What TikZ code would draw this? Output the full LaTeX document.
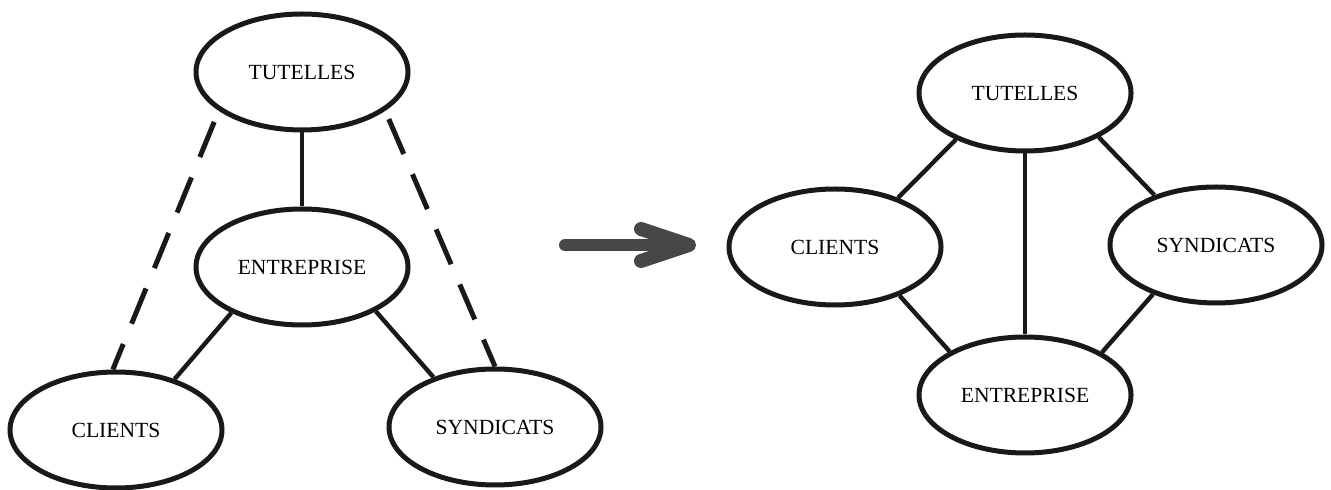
\documentclass[tikz,border=0pt]{standalone}
\usepackage{fontspec}
\setmainfont{Liberation Serif}
\usetikzlibrary{shapes.geometric}
\begin{document}
\begin{tikzpicture}[x=0.5pt,y=-0.5pt,
  oval/.style={ellipse, draw=black!90, line width=2.5pt, minimum width=106pt, minimum height=58pt, inner sep=0pt, font=\fontsize{10.8}{12}\selectfont},
  link/.style={draw=black!90, line width=2.2pt},
  dlink/.style={draw=black!90, line width=2.5pt, dash pattern=on 19pt off 11pt},
  bigarrow/.style={draw=black!72, line width=6pt, line cap=round, line join=round}]
\useasboundingbox (0,0) rectangle (1331,490);
% left diagram
\node[oval] (tut1) at (302,72) {TUTELLES};
\node[oval] (ent1) at (302,267) {ENTREPRISE};
\node[oval] (cli1) at (116,430) {CLIENTS};
\node[oval] (syn1) at (495,427) {SYNDICATS};
\draw[link] (tut1.south) -- (ent1.north);
\draw[link] (ent1.213) -- (cli1.41);
\draw[link] (ent1.329) -- (syn1.141.6);
\draw[dlink, dash phase=24pt] (tut1.205.4) -- (cli1.93);
\draw[dlink, dash phase=25.5pt] (tut1.335.7) -- (syn1.90);
% arrow
\coordinate (a1) at (565,245);
\coordinate (a2) at (689,245);
\coordinate (a3) at (641,229);
\coordinate (a4) at (641,261);
\draw[bigarrow] (a1) -- (a2);
\draw[bigarrow, line width=7pt] (a3) -- (a2) -- (a4);
% right diagram
\node[oval] (tut2) at (1025,93) {TUTELLES};
\node[oval] (cli2) at (835,247) {CLIENTS};
\node[oval] (syn2) at (1216,245) {SYNDICATS};
\node[oval] (ent2) at (1025,395) {ENTREPRISE};
\draw[link] (tut2.214.8) -- (cli2.38.7);
\draw[link] (tut2.south) -- (ent2.north);
\draw[link] (tut2.329.4) -- (syn2.141);
\draw[link] (cli2.323.6) -- (ent2.150);
\draw[link] (syn2.218.4) -- (ent2.29);
\end{tikzpicture}
\end{document}
